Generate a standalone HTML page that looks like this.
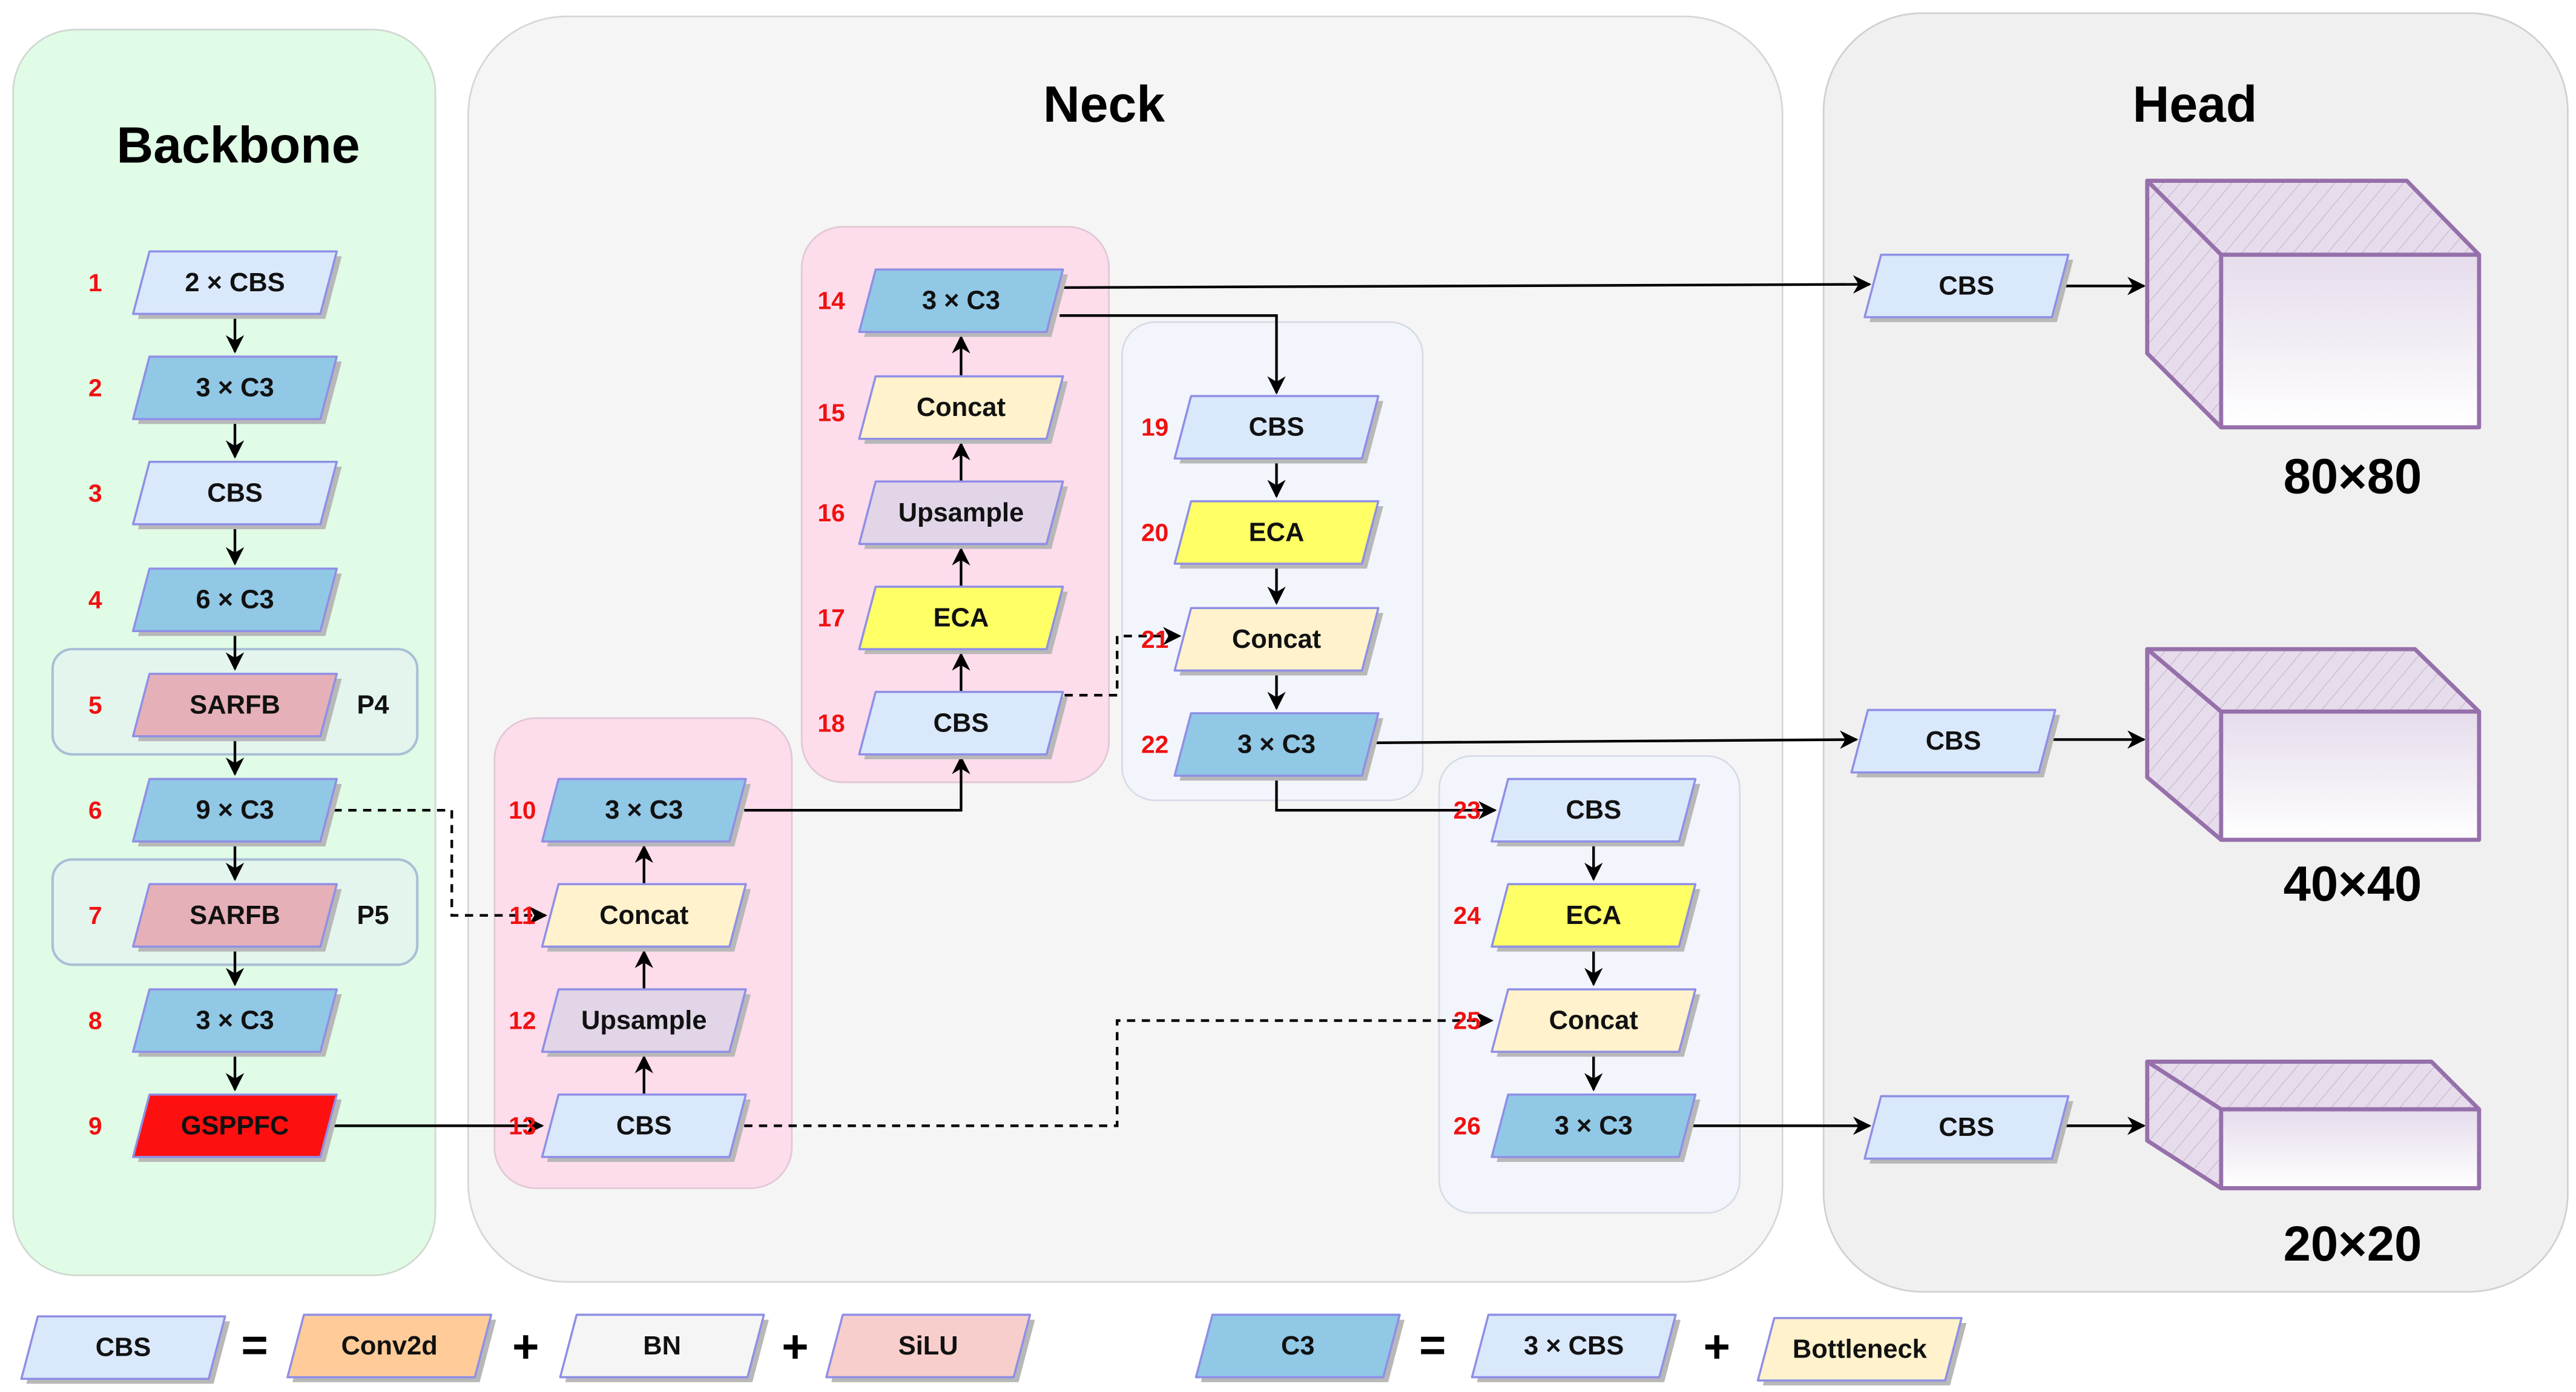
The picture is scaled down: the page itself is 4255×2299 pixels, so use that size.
<!DOCTYPE html>
<html><head><meta charset="utf-8"><style>html,body{margin:0;padding:0;background:#fff}svg{display:block}</style></head><body>
<svg width="4255" height="2299" viewBox="0 0 1568 847" preserveAspectRatio="none" xmlns="http://www.w3.org/2000/svg" font-family="Liberation Sans, sans-serif">
<defs>
<marker id="a" viewBox="0 0 10 10" refX="9" refY="5" markerWidth="7" markerHeight="7" orient="auto"><path d="M0,0L10,5L0,10L3,5z" fill="#000"/></marker>
<pattern id="h" width="8" height="8" patternUnits="userSpaceOnUse" patternTransform="rotate(40)"><rect width="8" height="8" fill="#e6dcec"/><line x1="0" y1="0" x2="0" y2="8" stroke="#c9bccf" stroke-width="1"/></pattern>
<linearGradient id="g" x1="0" y1="0" x2="0" y2="1"><stop offset="0" stop-color="#e6dcec"/><stop offset="1" stop-color="#ffffff"/></linearGradient>
<g id="pb"><path d="M-52,-19L62,-19L52,19L-62,19Z" stroke-linejoin="round"/></g>
</defs>
<style>
.n use{stroke:#8f8fe6;stroke-width:1.3;stroke-linejoin:round}
.n use.s{fill:#b8b8b8;stroke:none}
.t{font-weight:bold;font-size:16px;text-anchor:middle;dominant-baseline:central;fill:#111}
.r{font-weight:bold;font-size:15px;text-anchor:middle;dominant-baseline:central;fill:#f01010}
.l{stroke:#000;stroke-width:1.6;fill:none;marker-end:url(#a)}
.d{stroke:#000;stroke-width:1.6;fill:none;stroke-dasharray:5 4;marker-end:url(#a)}
.T{font-weight:bold;font-size:31px;text-anchor:middle;fill:#000}
.cube{stroke:#9670aa;stroke-width:2.5;stroke-linejoin:round}
</style>
<rect x="8" y="18" width="257" height="758" rx="38" fill="#e0fbe6" stroke="#d0d8d0"/>
<rect x="285" y="10" width="800" height="770" rx="60" fill="#f5f5f5" stroke="#d6d6d6"/>
<rect x="1110" y="8" width="453" height="778" rx="60" fill="#f0f0f0" stroke="#d0d0d0"/>
<text class="T" x="145" y="99">Backbone</text>
<text class="T" x="672" y="74">Neck</text>
<text class="T" x="1336" y="74">Head</text>
<rect x="32" y="395" width="222" height="64" rx="12" fill="#e4f5ee" stroke="#a9bfd6" stroke-width="1.5"/>
<rect x="32" y="523" width="222" height="64" rx="12" fill="#e4f5ee" stroke="#a9bfd6" stroke-width="1.5"/>
<text class="t" x="227" y="429">P4</text>
<text class="t" x="227" y="557">P5</text>
<rect x="301" y="437" width="181" height="286" rx="25" fill="#fddcec" stroke="#e0c8d4"/>
<rect x="488" y="138" width="187" height="338" rx="25" fill="#fddcec" stroke="#e0c8d4"/>
<rect x="683" y="196" width="183" height="291" rx="20" fill="#f3f5fc" stroke="#d8dbe6"/>
<rect x="876" y="460" width="183" height="278" rx="20" fill="#f3f5fc" stroke="#d8dbe6"/>
<g>
<path class="l" d="M143,191V214"/><path class="l" d="M143,255V278"/><path class="l" d="M143,319V343"/><path class="l" d="M143,384V407"/><path class="l" d="M143,448V471"/><path class="l" d="M143,512V535"/><path class="l" d="M143,576V599"/><path class="l" d="M143,640V663"/>
<path class="d" d="M203,493H275V557H332"/>
<path class="l" d="M203,685H330"/>
<path class="l" d="M392,666V643"/><path class="l" d="M392,602V579"/><path class="l" d="M392,538V515"/>
<path class="l" d="M453,493H585V461"/>
<path class="l" d="M585,421V398"/><path class="l" d="M585,357V334"/><path class="l" d="M585,293V270"/><path class="l" d="M585,229V205"/>
<path class="l" d="M645,175L1138,173"/>
<path class="l" d="M645,192H777V239"/>
<path class="d" d="M648,423H680V387H718"/>
<path class="l" d="M777,279V302"/><path class="l" d="M777,343V367"/><path class="l" d="M777,408V431"/>
<path class="l" d="M835,452L1130,450"/>
<path class="l" d="M777,472V493H910"/>
<path class="d" d="M453,685H680V621H908"/>
<path class="l" d="M970,512V535"/><path class="l" d="M970,576V599"/><path class="l" d="M970,640V663"/>
<path class="l" d="M1030,685H1138"/>
<path class="l" d="M1255,174H1305"/><path class="l" d="M1250,450H1305"/><path class="l" d="M1255,685H1305"/>
</g>
<g class="n">
<g transform="translate(143,172)"><use href="#pb" class="s" x="3" y="3"/><use href="#pb" fill="#dae8fc"/><text class="t">2 × CBS</text></g>
<g transform="translate(143,236)"><use href="#pb" class="s" x="3" y="3"/><use href="#pb" fill="#91c8e6"/><text class="t">3 × C3</text></g>
<g transform="translate(143,300)"><use href="#pb" class="s" x="3" y="3"/><use href="#pb" fill="#dae8fc"/><text class="t">CBS</text></g>
<g transform="translate(143,365)"><use href="#pb" class="s" x="3" y="3"/><use href="#pb" fill="#91c8e6"/><text class="t">6 × C3</text></g>
<g transform="translate(143,429)"><use href="#pb" class="s" x="3" y="3"/><use href="#pb" fill="#e6b0b8"/><text class="t">SARFB</text></g>
<g transform="translate(143,493)"><use href="#pb" class="s" x="3" y="3"/><use href="#pb" fill="#91c8e6"/><text class="t">9 × C3</text></g>
<g transform="translate(143,557)"><use href="#pb" class="s" x="3" y="3"/><use href="#pb" fill="#e6b0b8"/><text class="t">SARFB</text></g>
<g transform="translate(143,621)"><use href="#pb" class="s" x="3" y="3"/><use href="#pb" fill="#91c8e6"/><text class="t">3 × C3</text></g>
<g transform="translate(143,685)"><use href="#pb" class="s" x="3" y="3"/><use href="#pb" fill="#ff1010"/><text class="t">GSPPFC</text></g>

<g transform="translate(392,493)"><use href="#pb" class="s" x="3" y="3"/><use href="#pb" fill="#91c8e6"/><text class="t">3 × C3</text></g>
<g transform="translate(392,557)"><use href="#pb" class="s" x="3" y="3"/><use href="#pb" fill="#fff2cc"/><text class="t">Concat</text></g>
<g transform="translate(392,621)"><use href="#pb" class="s" x="3" y="3"/><use href="#pb" fill="#e1d5e7"/><text class="t">Upsample</text></g>
<g transform="translate(392,685)"><use href="#pb" class="s" x="3" y="3"/><use href="#pb" fill="#dae8fc"/><text class="t">CBS</text></g>

<g transform="translate(585,183)"><use href="#pb" class="s" x="3" y="3"/><use href="#pb" fill="#91c8e6"/><text class="t">3 × C3</text></g>
<g transform="translate(585,248)"><use href="#pb" class="s" x="3" y="3"/><use href="#pb" fill="#fff2cc"/><text class="t">Concat</text></g>
<g transform="translate(585,312)"><use href="#pb" class="s" x="3" y="3"/><use href="#pb" fill="#e1d5e7"/><text class="t">Upsample</text></g>
<g transform="translate(585,376)"><use href="#pb" class="s" x="3" y="3"/><use href="#pb" fill="#ffff66"/><text class="t">ECA</text></g>
<g transform="translate(585,440)"><use href="#pb" class="s" x="3" y="3"/><use href="#pb" fill="#dae8fc"/><text class="t">CBS</text></g>

<g transform="translate(777,260)"><use href="#pb" class="s" x="3" y="3"/><use href="#pb" fill="#dae8fc"/><text class="t">CBS</text></g>
<g transform="translate(777,324)"><use href="#pb" class="s" x="3" y="3"/><use href="#pb" fill="#ffff66"/><text class="t">ECA</text></g>
<g transform="translate(777,389)"><use href="#pb" class="s" x="3" y="3"/><use href="#pb" fill="#fff2cc"/><text class="t">Concat</text></g>
<g transform="translate(777,453)"><use href="#pb" class="s" x="3" y="3"/><use href="#pb" fill="#91c8e6"/><text class="t">3 × C3</text></g>

<g transform="translate(970,493)"><use href="#pb" class="s" x="3" y="3"/><use href="#pb" fill="#dae8fc"/><text class="t">CBS</text></g>
<g transform="translate(970,557)"><use href="#pb" class="s" x="3" y="3"/><use href="#pb" fill="#ffff66"/><text class="t">ECA</text></g>
<g transform="translate(970,621)"><use href="#pb" class="s" x="3" y="3"/><use href="#pb" fill="#fff2cc"/><text class="t">Concat</text></g>
<g transform="translate(970,685)"><use href="#pb" class="s" x="3" y="3"/><use href="#pb" fill="#91c8e6"/><text class="t">3 × C3</text></g>

<g transform="translate(1197,174)"><use href="#pb" class="s" x="3" y="3"/><use href="#pb" fill="#dae8fc"/><text class="t">CBS</text></g>
<g transform="translate(1189,451)"><use href="#pb" class="s" x="3" y="3"/><use href="#pb" fill="#dae8fc"/><text class="t">CBS</text></g>
<g transform="translate(1197,686)"><use href="#pb" class="s" x="3" y="3"/><use href="#pb" fill="#dae8fc"/><text class="t">CBS</text></g>

<g transform="translate(75,820)"><use href="#pb" class="s" x="3" y="3"/><use href="#pb" fill="#dae8fc"/><text class="t">CBS</text></g>
<g transform="translate(237,819)"><use href="#pb" class="s" x="3" y="3"/><use href="#pb" fill="#ffcc99"/><text class="t">Conv2d</text></g>
<g transform="translate(403,819)"><use href="#pb" class="s" x="3" y="3"/><use href="#pb" fill="#f5f5f5"/><text class="t" fill="#333">BN</text></g>
<g transform="translate(565,819)"><use href="#pb" class="s" x="3" y="3"/><use href="#pb" fill="#f8cecc"/><text class="t">SiLU</text></g>
<g transform="translate(790,819)"><use href="#pb" class="s" x="3" y="3"/><use href="#pb" fill="#91c8e6"/><text class="t">C3</text></g>
<g transform="translate(958,819)"><use href="#pb" class="s" x="3" y="3"/><use href="#pb" fill="#dae8fc"/><text class="t">3 × CBS</text></g>
<g transform="translate(1132,821)"><use href="#pb" class="s" x="3" y="3"/><use href="#pb" fill="#fff2cc"/><text class="t">Bottleneck</text></g>
</g>
<g font-weight="bold" font-size="28" text-anchor="middle" fill="#000">
<text x="155" y="828">=</text><text x="320" y="829">+</text><text x="484" y="829">+</text>
<text x="872" y="828">=</text><text x="1045" y="829">+</text>
</g>
<g>
<text class="r" x="58" y="172">1</text><text class="r" x="58" y="236">2</text><text class="r" x="58" y="300">3</text><text class="r" x="58" y="365">4</text><text class="r" x="58" y="429">5</text><text class="r" x="58" y="493">6</text><text class="r" x="58" y="557">7</text><text class="r" x="58" y="621">8</text><text class="r" x="58" y="685">9</text>
<text class="r" x="318" y="493">10</text><text class="r" x="318" y="557">11</text><text class="r" x="318" y="621">12</text><text class="r" x="318" y="685">13</text>
<text class="r" x="506" y="183">14</text><text class="r" x="506" y="251">15</text><text class="r" x="506" y="312">16</text><text class="r" x="506" y="376">17</text><text class="r" x="506" y="440">18</text>
<text class="r" x="703" y="260">19</text><text class="r" x="703" y="324">20</text><text class="r" x="703" y="389">21</text><text class="r" x="703" y="453">22</text>
<text class="r" x="893" y="493">23</text><text class="r" x="893" y="557">24</text><text class="r" x="893" y="621">25</text><text class="r" x="893" y="685">26</text>
</g>
<g class="cube">
<path d="M1307,110H1465L1509,155H1352Z" fill="url(#h)"/><path d="M1307,110V215L1352,260V155Z" fill="url(#h)"/><rect x="1352" y="155" width="157" height="105" fill="url(#g)"/>
<path d="M1307,395H1470L1509,433H1352Z" fill="url(#h)"/><path d="M1307,395V473L1352,511V433Z" fill="url(#h)"/><rect x="1352" y="433" width="157" height="78" fill="url(#g)"/>
<path d="M1307,646H1480L1509,675H1352Z" fill="url(#h)"/><path d="M1307,646V694L1352,723V675Z" fill="url(#h)"/><rect x="1352" y="675" width="157" height="48" fill="url(#g)"/>
</g>
<g font-weight="bold" font-size="30" text-anchor="middle" fill="#000">
<text x="1432" y="300">80×80</text><text x="1432" y="548">40×40</text><text x="1432" y="767">20×20</text>
</g>
</svg>
</body></html>
